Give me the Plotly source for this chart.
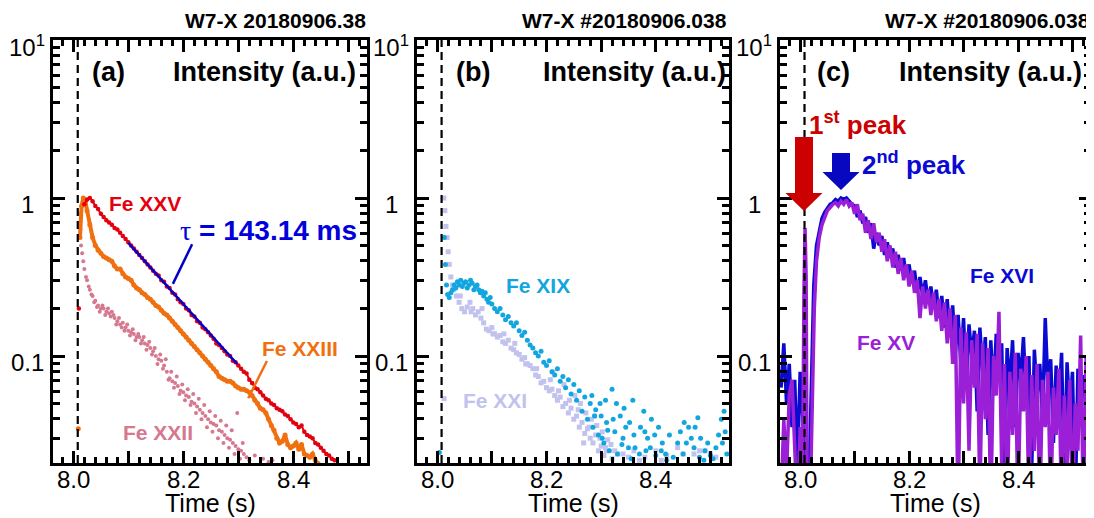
import numpy as np
import plotly.graph_objects as go

# the page body adds an 8 px margin, so the figure is drawn 8 px in from the window edge
PAGE_OFF = 8
W, H = 1094 - PAGE_OFF, 518 - PAGE_OFF
FONT = "Liberation Sans, Arial, sans-serif"

# ---------------- Panel (a) data (log10 of normalised intensity) ----------------
fe25_t = [8.020, 8.025, 8.030, 8.035, 8.040, 8.045, 8.050, 8.055, 8.060, 8.065, 8.070, 8.075,
          8.080, 8.085, 8.090, 8.095, 8.100, 8.105, 8.110, 8.115, 8.120, 8.125, 8.130, 8.135, 8.140,
          8.145, 8.150, 8.155, 8.160, 8.165, 8.170, 8.175, 8.180, 8.185, 8.190, 8.195, 8.200, 8.205,
          8.210, 8.215, 8.220, 8.225, 8.230, 8.235, 8.240, 8.245, 8.250, 8.255, 8.260, 8.265, 8.270,
          8.275, 8.280, 8.285, 8.290, 8.295, 8.300, 8.305, 8.310, 8.315, 8.320, 8.325, 8.330, 8.335,
          8.340, 8.345, 8.350, 8.355, 8.360, 8.365, 8.370, 8.375, 8.380, 8.385, 8.390, 8.395, 8.400,
          8.405, 8.410, 8.415, 8.420, 8.425, 8.430, 8.435, 8.440, 8.445, 8.450, 8.455, 8.460, 8.465,
          8.470, 8.475]
fe25_log = [-0.04, -0.01, 0.00, -0.02, -0.05, -0.07, -0.10, -0.12, -0.14, -0.155, -0.17, -0.19,
            -0.20, -0.22, -0.24, -0.26, -0.28, -0.30, -0.32, -0.34, -0.36, -0.38, -0.40, -0.42, -0.44,
            -0.46, -0.48, -0.49, -0.52, -0.53, -0.56, -0.57, -0.60, -0.61, -0.64, -0.66, -0.67, -0.70,
            -0.71, -0.74, -0.75, -0.78, -0.79, -0.82, -0.83, -0.85, -0.87, -0.89, -0.92, -0.93, -0.95,
            -0.97, -0.99, -1.00, -1.03, -1.04, -1.06, -1.08, -1.10, -1.11, -1.15, -1.17, -1.20, -1.21,
            -1.23, -1.25, -1.27, -1.28, -1.30, -1.31, -1.33, -1.34, -1.35, -1.37, -1.38, -1.40, -1.42,
            -1.43, -1.45, -1.44, -1.48, -1.50, -1.51, -1.52, -1.55, -1.56, -1.58, -1.60, -1.62, -1.63,
            -1.65, -1.66]
fe25_iso_t = [8.010]
fe25_iso_log = [-0.70]

fe23_t = [8.012, 8.015, 8.018, 8.022, 8.025, 8.030, 8.035, 8.040, 8.045, 8.050, 8.055, 8.060,
          8.065, 8.070, 8.075, 8.080, 8.085, 8.090, 8.095, 8.100, 8.105, 8.110, 8.115, 8.120, 8.125,
          8.130, 8.135, 8.140, 8.145, 8.150, 8.155, 8.160, 8.165, 8.170, 8.175, 8.180, 8.185, 8.190,
          8.195, 8.200, 8.205, 8.210, 8.215, 8.220, 8.225, 8.230, 8.235, 8.240, 8.245, 8.250, 8.255,
          8.260, 8.265, 8.270, 8.275, 8.280, 8.285, 8.290, 8.295, 8.300, 8.305, 8.310, 8.315, 8.320,
          8.325, 8.330, 8.335, 8.340, 8.345, 8.350, 8.355, 8.360, 8.365, 8.370, 8.375, 8.380, 8.385,
          8.390, 8.395, 8.400, 8.405, 8.410, 8.415, 8.420, 8.425, 8.430, 8.435, 8.440, 8.445, 8.450]
fe23_log = [-0.25, -0.05, 0.00, -0.02, -0.08, -0.17, -0.25, -0.30, -0.33, -0.35, -0.37, -0.38,
            -0.39, -0.40, -0.43, -0.45, -0.45, -0.48, -0.50, -0.51, -0.52, -0.55, -0.57, -0.58, -0.60,
            -0.61, -0.63, -0.64, -0.66, -0.68, -0.69, -0.71, -0.73, -0.74, -0.76, -0.78, -0.80, -0.82,
            -0.84, -0.86, -0.88, -0.90, -0.92, -0.94, -0.96, -0.98, -1.00, -1.02, -1.04, -1.06, -1.08,
            -1.10, -1.13, -1.14, -1.15, -1.16, -1.16, -1.17, -1.19, -1.20, -1.21, -1.21, -1.22, -1.23,
            -1.25, -1.28, -1.30, -1.33, -1.34, -1.36, -1.40, -1.44, -1.47, -1.52, -1.55, -1.54, -1.50,
            -1.56, -1.58, -1.57, -1.55, -1.59, -1.56, -1.62, -1.63, -1.64, -1.62, -1.66, -1.68, -1.70]
fe23_iso_t = [8.009]
fe23_iso_log = [-1.46]

fe22_t = [8.012, 8.013, 8.014, 8.016, 8.018, 8.020, 8.023, 8.025, 8.028, 8.030, 8.033, 8.035, 8.038,
          8.040, 8.043, 8.045, 8.048, 8.050, 8.053, 8.055, 8.058, 8.060, 8.063, 8.065, 8.068, 8.070,
          8.073, 8.075, 8.078, 8.080, 8.083, 8.085, 8.088, 8.090, 8.093, 8.095, 8.098, 8.100, 8.103,
          8.105, 8.108, 8.110, 8.113, 8.115, 8.118, 8.120, 8.123, 8.125, 8.128, 8.130, 8.133, 8.135,
          8.138, 8.140, 8.143, 8.145, 8.148, 8.150, 8.153, 8.155, 8.158, 8.160, 8.163, 8.165, 8.168,
          8.170, 8.173, 8.175, 8.178, 8.180, 8.183, 8.185, 8.188, 8.190, 8.193, 8.195, 8.198, 8.200,
          8.203, 8.205, 8.208, 8.210, 8.213, 8.215, 8.218, 8.220, 8.223, 8.225, 8.228, 8.230, 8.233,
          8.235, 8.238, 8.240, 8.243, 8.245, 8.248, 8.250, 8.253, 8.255, 8.258, 8.260, 8.263, 8.265,
          8.268, 8.270, 8.273, 8.275, 8.278, 8.280, 8.283, 8.285, 8.288, 8.290, 8.293, 8.295, 8.298,
          8.300, 8.303, 8.305, 8.308, 8.310, 8.315, 8.320, 8.330, 8.345, 8.355, 8.362]
fe22_log = [-0.10, -0.20, -0.30, -0.35, -0.40, -0.45, -0.50, -0.52, -0.56, -0.58, -0.61, -0.62, -0.66,
            -0.65, -0.69, -0.68, -0.72, -0.70, -0.68, -0.70, -0.74, -0.72, -0.70, -0.73, -0.75, -0.72,
            -0.74, -0.76, -0.80, -0.78, -0.76, -0.80, -0.82, -0.79, -0.84, -0.82, -0.80, -0.84, -0.87,
            -0.85, -0.83, -0.86, -0.90, -0.88, -0.86, -0.88, -0.92, -0.90, -0.88, -0.92, -0.96, -0.93,
            -0.91, -0.95, -0.99, -0.97, -0.95, -1.00, -1.05, -1.02, -0.99, -1.03, -1.08, -1.06, -1.02,
            -1.10, -1.15, -1.14, -1.10, -1.16, -1.20, -1.17, -1.13, -1.19, -1.24, -1.22, -1.18, -1.23,
            -1.28, -1.25, -1.21, -1.26, -1.31, -1.29, -1.24, -1.30, -1.36, -1.32, -1.27, -1.34, -1.40,
            -1.36, -1.31, -1.38, -1.45, -1.40, -1.35, -1.42, -1.48, -1.43, -1.38, -1.44, -1.52, -1.47,
            -1.41, -1.48, -1.55, -1.50, -1.44, -1.52, -1.58, -1.53, -1.47, -1.55, -1.62, -1.57, -1.36,
            -1.59, -1.65, -1.60, -1.55, -1.62, -1.64, -1.66, -1.63, -1.65, -1.67, -1.66]

fit_t = [8.100, 8.298]
fit_I = [0.52, 0.089]
tau_leader_t = [8.216, 8.181]
tau_leader_I = [0.51, 0.286]
fe23_leader_t = [8.352, 8.318]
fe23_leader_I = [0.093, 0.054]

# ---------------- Panel (b) data ----------------
fe19_t = [8.004, 8.013, 8.015, 8.017, 8.019, 8.022, 8.025, 8.028, 8.031, 8.034, 8.037, 8.040, 8.043,
          8.046, 8.049, 8.052, 8.055, 8.058, 8.061, 8.064, 8.067, 8.070, 8.073, 8.076, 8.079, 8.082,
          8.085, 8.088, 8.091, 8.094, 8.097, 8.100, 8.105, 8.110, 8.115, 8.120, 8.125, 8.130, 8.135,
          8.140, 8.145, 8.150, 8.155, 8.160, 8.165, 8.170, 8.175, 8.180, 8.185, 8.190, 8.195, 8.200,
          8.205, 8.210, 8.215, 8.220, 8.225, 8.230, 8.235, 8.240, 8.245, 8.250, 8.255, 8.260, 8.265,
          8.270, 8.275, 8.280, 8.285, 8.290, 8.295, 8.300, 8.305, 8.310, 8.315, 8.320, 8.325, 8.330,
          8.335, 8.340, 8.345, 8.350, 8.355, 8.360, 8.370, 8.378, 8.380, 8.385, 8.390, 8.400, 8.410,
          8.420, 8.440, 8.445, 8.450, 8.460, 8.465, 8.470, 8.477, 8.480, 8.490, 8.500, 8.510, 8.515,
          8.520, 8.525, 8.530,
          8.283, 8.288, 8.298, 8.302, 8.308, 8.312, 8.322, 8.328, 8.338, 8.342, 8.352, 8.358, 8.362,
          8.372, 8.382, 8.392, 8.398, 8.405, 8.412, 8.418, 8.425, 8.432, 8.452, 8.456, 8.472, 8.482,
          8.488, 8.495, 8.505, 8.522, 8.527]
fe19_log = [-1.61, -0.25, -0.42, -0.55, -0.61, -0.63, -0.60, -0.58, -0.55, -0.57, -0.53, -0.55, -0.52,
            -0.56, -0.54, -0.53, -0.57, -0.55, -0.52, -0.54, -0.58, -0.56, -0.55, -0.58, -0.60, -0.59,
            -0.62, -0.60, -0.64, -0.66, -0.63, -0.67, -0.70, -0.72, -0.70, -0.74, -0.77, -0.75, -0.79,
            -0.81, -0.79, -0.84, -0.87, -0.85, -0.90, -0.93, -0.95, -0.98, -1.00, -0.97, -1.04, -1.06,
            -1.03, -1.10, -1.12, -1.08, -1.16, -1.13, -1.20, -1.15, -1.24, -1.18, -1.28, -1.22, -1.35,
            -1.26, -1.40, -1.30, -1.45, -1.34, -1.50, -1.38, -1.55, -1.42, -1.60, -1.21, -1.48, -1.62,
            -1.38, -1.52, -1.45, -1.58, -1.65, -1.50, -1.62, -1.35, -1.48, -1.52, -1.58, -1.63, -1.60,
            -1.66, -1.55, -1.48, -1.62, -1.45, -1.52, -1.58, -1.39, -1.64, -1.60, -1.63, -1.58, -1.50,
            -1.40, -1.35, -1.62,
            -1.25, -1.38, -1.30, -1.52, -1.28, -1.47, -1.40, -1.30, -1.56, -1.33, -1.42, -1.28, -1.58,
            -1.45, -1.60, -1.40, -1.50, -1.45, -1.55, -1.62, -1.50, -1.64, -1.42, -1.55, -1.45, -1.52,
            -1.66, -1.55, -1.65, -1.55, -1.48]

fe21_t = [8.0125, 8.012, 8.014, 8.016, 8.018, 8.020, 8.022, 8.025, 8.028, 8.030, 8.035, 8.040, 8.045,
          8.050, 8.055, 8.060, 8.065, 8.070, 8.075, 8.080, 8.085, 8.090, 8.095, 8.100, 8.105, 8.110,
          8.115, 8.120, 8.125, 8.130, 8.135, 8.140, 8.145, 8.150, 8.155, 8.160, 8.165, 8.170, 8.175,
          8.180, 8.185, 8.190, 8.195, 8.200, 8.205, 8.210, 8.212, 8.215, 8.220, 8.225, 8.230, 8.232,
          8.235, 8.240, 8.245, 8.250, 8.252, 8.255, 8.260, 8.262, 8.265, 8.270, 8.272, 8.275, 8.280,
          8.282, 8.285, 8.290, 8.292, 8.295, 8.300, 8.302, 8.305, 8.310, 8.312, 8.318, 8.320, 8.330,
          8.350, 8.370, 8.400, 8.420, 8.440, 8.470, 8.490, 8.510,
          8.042, 8.062, 8.082, 8.102, 8.122, 8.142, 8.162, 8.182, 8.207, 8.222, 8.242, 8.258, 8.268,
          8.278, 8.288, 8.298, 8.308, 8.325, 8.340, 8.360, 8.380, 8.410, 8.450, 8.480, 8.500]
fe21_log = [-1.27, 0.00, -0.08, -0.18, -0.25, -0.34, -0.42, -0.50, -0.55, -0.58, -0.62, -0.66, -0.70,
            -0.72, -0.69, -0.66, -0.70, -0.74, -0.72, -0.76, -0.79, -0.83, -0.84, -0.82, -0.86, -0.88,
            -0.87, -0.91, -0.92, -0.90, -0.95, -0.96, -0.98, -0.99, -1.02, -1.01, -1.05, -1.06, -1.08,
            -1.12, -1.13, -1.17, -1.16, -1.20, -1.22, -1.21, -1.10, -1.25, -1.28, -1.26, -1.32, -1.18,
            -1.30, -1.36, -1.33, -1.40, -1.25, -1.38, -1.45, -1.30, -1.42, -1.49, -1.36, -1.46, -1.52,
            -1.40, -1.55, -1.50, -1.44, -1.60, -1.57, -1.48, -1.63, -1.60, -1.53, -1.56, -1.65, -1.62,
            -1.64, -1.66, -1.60, -1.63, -1.58, -1.62, -1.60, -1.64,
            -0.62, -0.72, -0.70, -0.86, -0.86, -0.92, -1.05, -1.08, -1.15, -1.22, -1.28, -1.34, -1.55,
            -1.45, -1.38, -1.52, -1.58, -1.60, -1.62, -1.60, -1.64, -1.66, -1.62, -1.60, -1.62]

# ---------------- Panel (c) data ----------------
c_t = [7.965, 7.970, 7.975, 7.980, 7.985, 7.990, 7.995, 8.000, 8.005, 8.010, 8.015, 8.020, 8.025,
       8.030, 8.035, 8.040, 8.045, 8.050, 8.055, 8.060, 8.065, 8.070, 8.075, 8.080, 8.085, 8.090,
       8.095, 8.100, 8.105, 8.110, 8.115, 8.120, 8.125, 8.130, 8.135, 8.140, 8.145, 8.150, 8.155,
       8.160, 8.165, 8.170, 8.175, 8.180, 8.185, 8.190, 8.195, 8.200, 8.205, 8.210, 8.215, 8.220,
       8.225, 8.230, 8.235, 8.240, 8.245, 8.250, 8.255, 8.260, 8.265, 8.270, 8.275, 8.280, 8.285,
       8.290, 8.295, 8.300, 8.305, 8.310, 8.315, 8.320, 8.325, 8.330, 8.335, 8.340, 8.345, 8.350,
       8.355, 8.360, 8.365, 8.370, 8.375, 8.380, 8.385, 8.390, 8.395, 8.400, 8.405, 8.410, 8.415,
       8.420, 8.425, 8.430, 8.435, 8.440, 8.445, 8.450, 8.455, 8.460, 8.465, 8.470, 8.475, 8.480,
       8.485, 8.490, 8.495, 8.500, 8.505, 8.510, 8.515, 8.520, 8.525, 8.530]
fe16_log = [-1.20, -0.92, -1.30, -1.05, -1.45, -1.15, -1.70, -1.10, -1.40, -1.90, -2.00, -1.20, -0.55,
            -0.30, -0.20, -0.13, -0.09, -0.06, -0.04, -0.03, -0.01, -0.02, 0.00, -0.01, 0.00, -0.02,
            -0.04,
            -0.05, -0.12, -0.08, -0.16, -0.12, -0.22, -0.16, -0.32, -0.22, -0.30, -0.24, -0.36, -0.28,
            -0.38, -0.32, -0.44, -0.36, -0.46, -0.38, -0.50, -0.42, -0.54, -0.46, -0.60, -0.50, -0.62,
            -0.52, -0.66, -0.56, -0.70, -0.58, -0.76, -0.62, -0.82, -0.64, -0.88, -0.68, -0.98,
            -0.74, -1.05, -0.76, -1.20, -0.80, -1.00, -0.84, -1.35, -0.82, -1.10, -0.88, -1.50, -0.90,
            -1.25, -0.86, -1.05, -0.92, -1.80, -0.95, -1.20, -0.90, -1.45, -0.98, -1.15, -0.88, -1.30,
            -1.00, -1.75, -0.96, -1.25, -1.05, -1.40, -0.76, -1.20, -1.02, -1.55, -1.06, -1.30, -0.98,
            -1.80, -1.04, -1.35, -1.10, -1.95, -1.08, -1.40, -1.12, -1.25, -1.15]
c15_t = [7.965, 7.970, 7.975, 7.980, 7.985, 7.990, 7.995, 8.000, 8.004, 8.007, 8.009, 8.011, 8.013,
         8.018, 8.022, 8.026, 8.030, 8.035, 8.040, 8.045, 8.050, 8.055, 8.060, 8.065, 8.070, 8.075,
         8.080, 8.085, 8.090, 8.095, 8.100, 8.105, 8.110, 8.115, 8.120, 8.125, 8.130, 8.135, 8.140,
         8.145, 8.150, 8.155, 8.160, 8.165, 8.170, 8.175, 8.180, 8.185, 8.190, 8.195, 8.200, 8.205,
         8.210, 8.215, 8.220, 8.225, 8.230, 8.235, 8.240, 8.245, 8.250, 8.255, 8.260, 8.265, 8.270,
         8.275, 8.280, 8.285, 8.290, 8.295, 8.300, 8.305, 8.310, 8.315, 8.320, 8.325, 8.330, 8.335,
         8.340, 8.345, 8.350, 8.355, 8.360, 8.365, 8.370, 8.375, 8.380, 8.385, 8.390, 8.395, 8.400,
         8.405, 8.410, 8.415, 8.420, 8.425, 8.430, 8.435, 8.440, 8.445, 8.450, 8.455, 8.460, 8.465,
         8.470, 8.475, 8.480, 8.485, 8.490, 8.495, 8.500, 8.505, 8.510, 8.515, 8.520, 8.525, 8.530]
fe15_log = [-1.90, -1.40, -1.75, -1.25, -1.15, -1.60, -2.00, -1.45, -2.00, -0.60, -0.19, -0.50, -2.00,
            -2.00, -1.20, -0.70, -0.40, -0.25, -0.17, -0.12, -0.08, -0.06, -0.04, -0.03, -0.05, -0.02,
            -0.04, -0.01, -0.05, -0.03,
            -0.10, -0.04, -0.14, -0.10, -0.22, -0.14, -0.26, -0.16, -0.28, -0.22, -0.34, -0.26, -0.40,
            -0.30, -0.44, -0.34, -0.48, -0.38, -0.52, -0.42, -0.56, -0.46, -0.60, -0.52, -0.76, -0.56,
            -0.70, -0.58, -0.74, -0.60, -0.78, -0.64, -0.84, -0.66, -0.92, -0.70, -1.05, -0.74,
            -2.00, -0.82, -1.30, -0.85, -1.60, -0.90, -1.20, -0.86, -1.90, -0.92,
            -1.40, -0.95, -2.00, -1.00, -1.25, -0.72, -1.70, -1.05, -2.00, -1.10, -1.50, -0.98, -2.00,
            -1.08, -1.35, -1.00, -1.95, -1.12, -1.60, -1.05, -2.00, -1.15, -1.45, -1.10, -2.00, -1.20,
            -1.50, -1.08, -2.00, -1.25, -1.70, -1.15, -2.00, -1.30, -1.60, -0.87, -2.00, -1.00, -1.40]

x_ticks = [8.0, 8.1, 8.2, 8.3, 8.4, 8.5]
x_ticktext = ["8.0", "", "8.2", "", "8.4", ""]
y_ticks = [0.1, 1, 10]
y_ticktext = ["0.1", "1", "10<sup>1</sup>"]
y_minor = [m * d for d in (0.01, 0.1, 1) for m in range(2, 10)]
t_marker = 8.008
x_range = [7.963, 8.534]
y_range_log = [-1.677, 1.0]

C_RED = "#e3000f"
C_ORANGE = "#f07010"
C_PINK = "#d6788f"
C_CYAN = "#12a6e0"
C_LAV = "#c2c2ee"
C_BLUE = "#0a0ad2"
C_PURPLE = "#9a1fd6"
C_DARKRED = "#cc0000"


def tolin(v):
    return list(10 ** np.array(v))


fig = go.Figure()

# panel a
fig.add_trace(go.Scatter(x=fe22_t, y=tolin(fe22_log), mode="markers", marker=dict(color=C_PINK, size=4),
                         xaxis="x", yaxis="y"))
fig.add_trace(go.Scatter(x=fe23_t, y=tolin(fe23_log), mode="lines+markers", line=dict(color=C_ORANGE, width=4),
                         marker=dict(color=C_ORANGE, size=5), xaxis="x", yaxis="y"))
fig.add_trace(go.Scatter(x=fe23_iso_t, y=tolin(fe23_iso_log), mode="markers", marker=dict(color=C_ORANGE, size=5),
                         xaxis="x", yaxis="y"))
fig.add_trace(go.Scatter(x=fe25_t, y=tolin(fe25_log), mode="lines+markers", line=dict(color=C_RED, width=2),
                         marker=dict(color=C_RED, size=4.5), xaxis="x", yaxis="y"))
fig.add_trace(go.Scatter(x=fe25_iso_t, y=tolin(fe25_iso_log), mode="markers", marker=dict(color=C_RED, size=4.5),
                         xaxis="x", yaxis="y"))
fig.add_trace(go.Scatter(x=fit_t, y=fit_I, mode="lines", line=dict(color="#0000cc", width=2.5),
                         xaxis="x", yaxis="y"))
fig.add_trace(go.Scatter(x=tau_leader_t, y=tau_leader_I, mode="lines", line=dict(color="#0000cc", width=2.5),
                         xaxis="x", yaxis="y"))
fig.add_trace(go.Scatter(x=fe23_leader_t, y=fe23_leader_I, mode="lines", line=dict(color=C_ORANGE, width=2.5),
                         xaxis="x", yaxis="y"))

# panel b
fig.add_trace(go.Scatter(x=fe21_t, y=tolin(fe21_log), mode="markers",
                         marker=dict(color=C_LAV, size=5, symbol="square"), xaxis="x2", yaxis="y2"))
fig.add_trace(go.Scatter(x=fe19_t, y=tolin(fe19_log), mode="markers",
                         marker=dict(color=C_CYAN, size=5), xaxis="x2", yaxis="y2"))

# panel c
fig.add_trace(go.Scatter(x=c_t, y=tolin(fe16_log), mode="lines", line=dict(color=C_BLUE, width=3.5),
                         xaxis="x3", yaxis="y3"))
fig.add_trace(go.Scatter(x=c15_t, y=tolin(fe15_log), mode="lines", line=dict(color=C_PURPLE, width=3.5),
                         xaxis="x3", yaxis="y3"))


def px2x(p):
    return (p - PAGE_OFF) / W


def px2y(p):
    return 1 - (p - PAGE_OFF) / H


def ann(text, xp, yp, color="black", size=22, xanchor="center", bold=True, **kw):
    fig.add_annotation(text=("<b>%s</b>" % text) if bold else text, x=px2x(xp), y=px2y(yp),
                       xref="paper", yref="paper", xanchor=xanchor, yanchor="middle", showarrow=False,
                       font=dict(family=FONT, size=size, color=color), **kw)


xdomains = [(53, 367), (417, 729), (780, 1091)]
top_px, bot_px = 40, 463
ydom = [px2y(bot_px), px2y(top_px)]

axis_common = dict(showline=True, linewidth=3, linecolor="black", mirror="allticks",
                   ticks="inside", tickwidth=2.5, tickcolor="black", showgrid=False, zeroline=False,
                   showticklabels=False, automargin=False)
for i, (l, r) in enumerate(xdomains):
    sfx = "" if i == 0 else str(i + 1)
    fig.layout["xaxis" + sfx] = dict(
        domain=[px2x(l), min(px2x(r), 1.0)], range=x_range, anchor="y" + sfx,
        tickmode="array", tickvals=x_ticks, ticklen=12,
        minor=dict(dtick=0.02, tick0=8.0, ticks="inside", ticklen=6, tickwidth=2.5, tickcolor="black"),
        **axis_common)
    fig.layout["yaxis" + sfx] = dict(
        domain=ydom, type="log", range=y_range_log, anchor="x" + sfx,
        tickmode="array", tickvals=y_ticks, ticklen=12,
        minor=dict(tickmode="array", tickvals=y_minor, ticks="inside", ticklen=7, tickwidth=2.5,
                   tickcolor="black"),
        **axis_common)
    fig.add_shape(type="line", xref="x" + sfx, yref="y" + sfx + " domain", x0=t_marker, x1=t_marker,
                  y0=0, y1=1, line=dict(color="black", width=2.2, dash="8px,5px"))
    # x tick labels
    for tv, tt in zip(x_ticks, x_ticktext):
        if tt:
            fig.add_annotation(text=tt, x=tv, y=px2y(479), xref="x" + sfx, yref="paper",
                               xanchor="center", yanchor="middle", showarrow=False,
                               font=dict(family=FONT, size=24, color="black"))
    # y tick labels (centred, as in the reference)
    for tv, tt in zip(y_ticks, y_ticktext):
        fig.add_annotation(text=tt, x=px2x(l - 26), y=float(np.log10(tv)), xref="paper", yref="y" + sfx,
                           xanchor="center", yanchor="middle", yshift=-6, showarrow=False,
                           font=dict(family=FONT, size=24, color="black"))
    ann("Time (s)", (l + r) / 2, 503, size=25, bold=False)

# headers
ann("W7-X 20180906.38", 368, 20, size=21, xanchor="right")
ann("W7-X #20180906.038", 729, 20, size=21, xanchor="right")
ann("W7-X #20180906.038", 1092, 20, size=21, xanchor="right")
for xr in (358, 728, 1084):
    ann("Intensity (a.u.)", xr, 72, size=27, xanchor="right")
ann("(a)", 108, 72, size=27)
ann("(b)", 473, 72, size=27)
ann("(c)", 834, 72, size=27)

# panel a labels
ann("Fe XXV", 145, 203, color=C_RED, size=21)
ann("Fe XXIII", 300, 348, color=C_ORANGE, size=21)
ann("Fe XXII", 158, 432, color=C_PINK, size=21)
ann("<span style='font-family:Liberation Serif;font-weight:normal'>τ</span> = 143.14 ms", 268, 230,
    color="#0000dd", size=28)
# panel b labels
ann("Fe XIX", 538, 285, color=C_CYAN, size=21)
ann("Fe XXI", 495, 400, color=C_LAV, size=21)
# panel c labels
ann("Fe XVI", 1002, 275, color=C_BLUE, size=21)
ann("Fe XV", 886, 342, color=C_PURPLE, size=21)
ann("1<sup>st</sup> peak", 858, 124, color=C_DARKRED, size=26)
ann("2<sup>nd</sup> peak", 914, 163, color=C_BLUE, size=26)


def arrow_path(cx, top, neck, tip, bw, hw):
    pts = [(cx - bw / 2, top), (cx + bw / 2, top), (cx + bw / 2, neck), (cx + hw / 2, neck),
           (cx, tip), (cx - hw / 2, neck), (cx - bw / 2, neck)]
    return "M " + " L ".join(f"{px2x(x):.5f},{px2y(y):.5f}" for x, y in pts) + " Z"


fig.add_shape(type="path", xref="paper", yref="paper", path=arrow_path(804, 137, 193, 211, 18, 37),
              fillcolor=C_DARKRED, line=dict(width=0))
fig.add_shape(type="path", xref="paper", yref="paper", path=arrow_path(841, 153, 172, 190, 18, 37),
              fillcolor="#0808c0", line=dict(width=0))

fig.update_layout(width=W, height=H, margin=dict(l=0, r=0, t=0, b=0, autoexpand=False), showlegend=False,
                  plot_bgcolor="white", paper_bgcolor="white")

fig.write_html("out.html")
